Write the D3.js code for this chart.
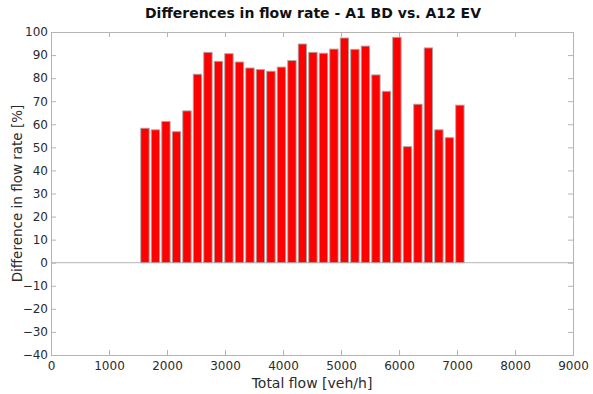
<!DOCTYPE html>
<html>
<head>
<meta charset="utf-8">
<script src="https://cdn.jsdelivr.net/npm/d3@7"></script>
<style>
  html, body { margin: 0; padding: 0; background: #fff; }
  svg { display: block; }
</style>
</head>
<body>
<svg id="chart" width="593" height="394"></svg>
<script>
// Bin centres of total flow [veh/h]
const flowBins = [1620, 1801, 1982, 2163, 2344, 2525, 2706, 2887, 3068, 3249, 3430,
  3611, 3792, 3973, 4154, 4335, 4516, 4697, 4878, 5059, 5240, 5421, 5602, 5783,
  5964, 6145, 6326, 6507, 6688, 6869, 7050];
// Difference in flow rate per bin [%]
const diffPct = [58.3, 57.6, 61.2, 56.8, 65.8, 81.7, 91.2, 87.3, 90.6, 87.0, 84.4,
  83.7, 83.0, 84.8, 87.6, 94.8, 91.2, 90.8, 92.6, 97.4, 92.5, 93.9, 81.4, 74.3,
  97.7, 50.3, 68.7, 93.1, 57.6, 54.2, 68.3];
const binWidth = 181;
const xTicks = [0, 1000, 2000, 3000, 4000, 5000, 6000, 7000, 8000, 9000];
const yTicks = [-40, -30, -20, -10, 0, 10, 20, 30, 40, 50, 60, 70, 80, 90, 100];

const chartTitle = "Differences in flow rate - A1 BD vs. A12 EV";
const xTitle = "Total flow [veh/h]";
const yTitle = "Difference in flow rate [%]";

const svg = d3.select("#chart");
const m = { left: 51, right: 20, top: 32, bottom: 39 };
const W = 593, H = 394;

const x = d3.scaleLinear().domain([0, 9000]).range([m.left, W - m.right]);
const y = d3.scaleLinear().domain([-40, 100]).range([H - m.bottom, m.top]);

const axisCol = "#b4b4b4";
const textCol = "#2b2b2b";
const font = "'DejaVu Sans', Verdana, sans-serif";

// zero baseline
svg.append("line")
  .attr("x1", x(0)).attr("x2", x(9000))
  .attr("y1", y(0)).attr("y2", y(0))
  .attr("stroke", axisCol).attr("stroke-width", 1);

// bars
svg.append("g").selectAll("rect")
  .data(flowBins.map((f, i) => ({ f, v: diffPct[i] })))
  .join("rect")
  .attr("x", d => x(d.f - binWidth * 0.4))
  .attr("width", d => x(d.f + binWidth * 0.4) - x(d.f - binWidth * 0.4))
  .attr("y", d => y(d.v))
  .attr("height", d => y(0) - y(d.v))
  .attr("fill", "#ff0000")
  .attr("stroke", "#a8a8a8")
  .attr("stroke-width", 0.9);

// axes: ticks pointing inward, mirrored on top/right
const tk = 5;
const axBottom = svg.append("g").attr("transform", `translate(0,${y(-40)})`)
  .call(d3.axisBottom(x).tickValues(xTicks).tickSize(-tk).tickPadding(4).tickFormat(d3.format("d")));
const axTop = svg.append("g").attr("transform", `translate(0,${y(100)})`)
  .call(d3.axisTop(x).tickValues(xTicks).tickSize(-tk).tickFormat(""));
const axLeft = svg.append("g").attr("transform", `translate(${x(0)},0)`)
  .call(d3.axisLeft(y).tickValues(yTicks).tickSize(-tk).tickPadding(4).tickFormat(d3.format("d")));
const axRight = svg.append("g").attr("transform", `translate(${x(9000)},0)`)
  .call(d3.axisRight(y).tickValues(yTicks).tickSize(-tk).tickFormat(""));

[axBottom, axTop, axLeft, axRight].forEach(g => {
  g.select(".domain").attr("stroke", axisCol).attr("stroke-width", 1);
  g.selectAll(".tick line").attr("stroke", axisCol);
  g.selectAll(".tick text").attr("fill", textCol)
    .style("font-family", font).style("font-size", "12px");
});
axBottom.selectAll(".tick text").attr("dy", "0.9em");
axLeft.selectAll(".tick text").attr("dx", "1px");

// titles
svg.append("text")
  .attr("x", (x(0) + x(9000)) / 2 + 1).attr("y", 18)
  .attr("text-anchor", "middle")
  .style("font-family", font).style("font-size", "14px").style("font-weight", "bold")
  .attr("fill", "#111")
  .text(chartTitle);

svg.append("text")
  .attr("x", (x(0) + x(9000)) / 2).attr("y", 388)
  .attr("text-anchor", "middle")
  .style("font-family", font).style("font-size", "14px")
  .attr("fill", textCol)
  .text(xTitle);

svg.append("text")
  .attr("transform", `translate(22,${(y(-40) + y(100)) / 2}) rotate(-90)`)
  .attr("text-anchor", "middle")
  .style("font-family", font).style("font-size", "13.5px")
  .attr("fill", textCol)
  .text(yTitle);
</script>
</body>
</html>
